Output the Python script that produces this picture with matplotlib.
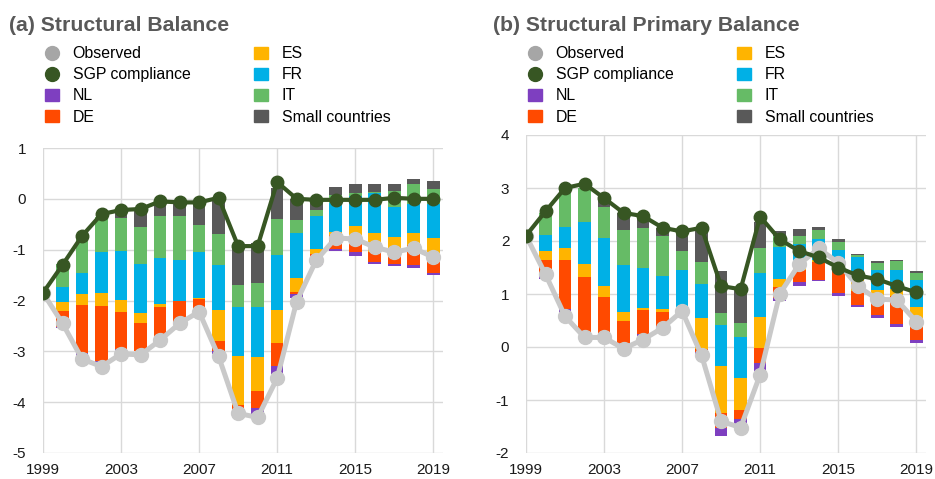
import numpy as np
import matplotlib
matplotlib.use("Agg")
import matplotlib.pyplot as plt
from matplotlib.lines import Line2D
from matplotlib.patches import Patch

plt.rcParams["font.family"] = ["Liberation Sans", "DejaVu Sans"]
plt.rcParams["axes.unicode_minus"] = False

# Data
years = list(range(1999, 2020))
bar_years = list(range(2000, 2020))

# (a) Structural Balance
sb_observed = [-1.85, -2.45, -3.15, -3.3, -3.05, -3.07, -2.78, -2.45, -2.22, -3.1, -4.22,
               -4.3, -3.53, -2.02, -1.21, -0.77, -0.79, -0.95, -1.05, -0.97, -1.15]
sb_sgp = [-1.85, -1.3, -0.73, -0.3, -0.22, -0.2, -0.05, -0.07, -0.07, 0.02, -0.93,
          -0.93, 0.33, 0.0, -0.02, -0.02, -0.02, -0.02, 0.02, 0.0, 0.0]
sb_base = [-2.55, -3.09, -3.2, -3.0, -3.0, -2.75, -2.45, -2.2, -3.05, -4.3,
           -4.25, -3.45, -1.96, -1.3, -1.03, -1.12, -1.28, -1.32, -1.36, -1.5]
sb_nl = [0.02, 0.06, 0.01, 0.04, 0.01, 0.03, 0.02, 0.02, 0.05, 0.15,
         0.13, 0.16, 0.09, 0.15, 0.05, 0.07, 0.03, 0.04, 0.05, 0.04]
sb_de = [0.32, 0.94, 1.08, 0.74, 0.55, 0.6, 0.43, 0.2, 0.2, 0.1,
         0.33, 0.46, 0.04, 0.07, 0.27, 0.31, 0.2, 0.28, 0.41, 0.36]
sb_es = [0.18, 0.22, 0.26, 0.23, 0.2, 0.06, 0.0, 0.03, 0.62, 0.95,
         0.68, 0.65, 0.27, 0.1, 0.06, 0.21, 0.38, 0.24, 0.23, 0.33]
sb_fr = [0.29, 0.41, 0.8, 0.96, 0.96, 0.9, 0.79, 0.9, 0.87, 0.97,
         0.98, 1.07, 0.89, 0.65, 0.57, 0.58, 0.78, 0.59, 0.57, 0.67]
sb_it = [0.45, 0.75, 0.7, 0.65, 0.72, 0.83, 0.88, 0.53, 0.62, 0.43,
         0.48, 0.72, 0.26, 0.11, 0.15, 0.06, 0.03, 0.33, 0.39, 0.3]
sb_small = [0.0, 0.0, 0.0, 0.1, 0.36, 0.25, 0.25, 0.45, 0.71, 0.8,
            0.78, 0.6, 0.41, 0.14, 0.16, 0.18, 0.15, 0.13, 0.1, 0.15]

# (b) Structural Primary Balance
pb_observed = [2.1, 1.37, 0.58, 0.18, 0.18, -0.03, 0.14, 0.36, 0.68, -0.16, -1.4,
               -1.52, -0.52, 1.0, 1.56, 1.86, 1.59, 1.15, 0.9, 0.89, 0.48]
pb_sgp = [2.1, 2.56, 3.0, 3.08, 2.81, 2.53, 2.47, 2.25, 2.18, 2.25, 1.15,
          1.09, 2.46, 2.03, 1.81, 1.69, 1.5, 1.35, 1.28, 1.15, 1.03]
pb_base = [1.29, 0.61, 0.24, 0.22, 0.05, 0.2, 0.38, 0.7, -0.14, -1.68,
           -1.5, -0.45, 0.86, 1.15, 1.24, 0.97, 0.75, 0.55, 0.38, 0.07]
pb_nl = [0.06, 0.1, 0.03, 0.05, 0.03, 0.04, 0.02, 0.0, 0.05, 0.16,
         0.14, 0.15, 0.07, 0.08, 0.02, 0.04, 0.04, 0.05, 0.06, 0.06]
pb_de = [0.29, 0.93, 1.05, 0.67, 0.42, 0.46, 0.26, 0.03, 0.06, 0.27,
         0.17, 0.28, 0.21, 0.22, 0.34, 0.42, 0.27, 0.33, 0.52, 0.39]
pb_es = [0.18, 0.22, 0.24, 0.21, 0.16, 0.03, 0.05, 0.02, 0.57, 0.9,
         0.6, 0.59, 0.14, 0.1, 0.05, 0.13, 0.23, 0.15, 0.13, 0.23]
pb_fr = [0.3, 0.41, 0.8, 0.9, 0.88, 0.77, 0.63, 0.71, 0.64, 0.77,
         0.78, 0.83, 0.61, 0.39, 0.39, 0.27, 0.41, 0.37, 0.36, 0.51]
pb_it = [0.41, 0.69, 0.64, 0.6, 0.66, 0.75, 0.75, 0.36, 0.42, 0.23,
         0.27, 0.46, 0.2, 0.15, 0.17, 0.15, 0.04, 0.14, 0.17, 0.13]
pb_small = [0.0, 0.0, 0.0, 0.16, 0.33, 0.22, 0.16, 0.36, 0.65, 0.78,
            0.63, 0.49, 0.1, 0.14, 0.06, 0.05, 0.02, 0.03, 0.03, 0.04]

countries = ["NL", "DE", "ES", "FR", "IT", "Small countries"]
colors = ["#7E3FC0", "#FF4A00", "#FFB400", "#00B0E6", "#66BB66", "#595959"]
obs_color = "#C9C9C9"
sgp_color = "#375623"
grid_color = "#D9D9D9"


def draw_panel(ax, base, parts, observed, sgp, ylim):
    bottom = np.array(base, dtype=float)
    for vals, col in zip(parts, colors):
        ax.bar(bar_years, vals, bottom=bottom, width=0.65, color=col, zorder=2)
        bottom = bottom + np.array(vals)
    ax.plot(years, observed, color=obs_color, lw=3.6, marker="o", ms=10,
            zorder=3)
    ax.plot(years, sgp, color=sgp_color, lw=3.0, marker="o", ms=9, zorder=4)
    ax.set_xlim(1999, 2019.5)
    ax.set_ylim(*ylim)
    ax.set_xticks(range(1999, 2020, 4))
    ax.set_yticks(range(ylim[0], ylim[1] + 1))
    ax.grid(True, color=grid_color, lw=1.0, zorder=0)
    ax.set_axisbelow(True)
    for s in ax.spines.values():
        s.set_visible(False)
    ax.tick_params(length=0, labelsize=11, labelcolor="#1a1a1a")
    ax.tick_params(axis="y", pad=12)
    ax.tick_params(axis="x", pad=7)


def add_legend(fig, x0):
    handles = [Line2D([], [], ls="none", marker="o", ms=10, color="#A6A6A6"),
               Line2D([], [], ls="none", marker="o", ms=10, color=sgp_color)]
    handles += [Patch(color=c) for c in colors]
    labels = ["Observed", "SGP compliance"] + countries
    fig.legend(handles, labels, loc="upper left", bbox_to_anchor=(x0, 0.903),
               ncol=2, frameon=False, fontsize=11.4, borderpad=0,
               borderaxespad=0, handlelength=0.9, handleheight=0.8,
               handletextpad=0.85, labelspacing=0.38, columnspacing=4.0)


fig = plt.figure(figsize=(9.35, 4.79), dpi=100)

ax1 = fig.add_axes([43 / 935, 1 - 453 / 479, 400 / 935, 305 / 479])
draw_panel(ax1, sb_base, [sb_nl, sb_de, sb_es, sb_fr, sb_it, sb_small],
           sb_observed, sb_sgp, (-5, 1))

ax2 = fig.add_axes([526 / 935, 1 - 453 / 479, 400 / 935, 318 / 479])
draw_panel(ax2, pb_base, [pb_nl, pb_de, pb_es, pb_fr, pb_it, pb_small],
           pb_observed, pb_sgp, (-2, 4))

fig.text(9 / 935, 1 - 31 / 479, "(a) Structural Balance", fontsize=15.3,
         fontweight="bold", color="#595959", va="baseline")
fig.text(493 / 935, 1 - 31 / 479, "(b) Structural Primary Balance", fontsize=15.3,
         fontweight="bold", color="#595959", va="baseline")

add_legend(fig, 45 / 935)
add_legend(fig, 528 / 935)

fig.savefig("out.png", dpi=100)
